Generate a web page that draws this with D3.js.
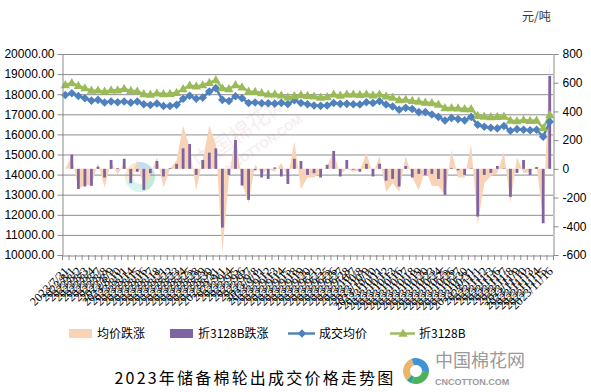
<!DOCTYPE html>
<html><head><meta charset="utf-8">
<script src="https://cdn.jsdelivr.net/npm/d3@7/dist/d3.min.js"></script>
<style>body{margin:0;background:#fff}svg{display:block}</style>
</head><body><svg id="c" width="591" height="392"></svg>
<script>
const dates = ["2023/7/31","2023/8/1","2023/8/2","2023/8/3","2023/8/4","2023/8/7","2023/8/8","2023/8/9","2023/8/10","2023/8/11","2023/8/14","2023/8/15","2023/8/16","2023/8/17","2023/8/18","2023/8/21","2023/8/22","2023/8/23","2023/8/24","2023/8/25","2023/8/28","2023/8/29","2023/8/30","2023/8/31","2023/9/1","2023/9/4","2023/9/5","2023/9/6","2023/9/7","2023/9/8","2023/9/11","2023/9/12","2023/9/13","2023/9/14","2023/9/15","2023/9/18","2023/9/19","2023/9/20","2023/9/21","2023/9/22","2023/9/25","2023/9/26","2023/9/27","2023/9/28","2023/10/7","2023/10/8","2023/10/9","2023/10/10","2023/10/11","2023/10/12","2023/10/13","2023/10/16","2023/10/17","2023/10/18","2023/10/19","2023/10/20","2023/10/23","2023/10/24","2023/10/25","2023/10/26","2023/10/27","2023/10/30","2023/10/31","2023/11/1","2023/11/2","2023/11/3","2023/11/6","2023/11/7","2023/11/8","2023/11/9","2023/11/10","2023/11/13","2023/11/14","2023/11/15","2023/11/16"];
const avgPrice = [17960,18050,17910,17800,17680,17720,17590,17640,17600,17640,17580,17640,17500,17460,17540,17410,17410,17470,17770,17920,17770,17830,18130,18300,17720,17660,17900,17800,17560,17590,17550,17550,17530,17570,17510,17700,17560,17500,17440,17420,17440,17560,17520,17520,17500,17490,17600,17560,17650,17490,17390,17230,17320,17260,17110,17110,16990,16870,16690,16820,16760,16700,16870,16480,16380,16330,16300,16420,16180,16260,16230,16210,16230,15880,16630];
const price3128B = [18460,18560,18420,18300,18180,18190,18130,18200,18200,18270,18170,18150,18010,17980,18050,18010,18020,18070,18260,18430,18390,18450,18570,18710,18300,18260,18460,18340,18130,18120,18060,17990,18000,17940,17840,17910,17960,17920,17890,17830,17860,17990,17930,17990,17990,17970,18000,17950,17990,17900,17830,17710,17730,17670,17640,17590,17560,17490,17310,17310,17300,17260,17260,16930,16890,16860,16880,16890,16690,16660,16720,16680,16690,16310,16960];
const avgChange = [0,90,-140,-110,-120,40,-130,50,-40,40,-60,60,-140,-40,80,-130,0,60,300,150,-150,60,300,170,-580,-60,240,-100,-240,30,-40,0,-20,40,-60,190,-140,-60,-60,-20,20,120,-40,0,-20,-10,110,-40,90,-160,-100,-160,90,-60,-150,0,-120,-120,-180,130,-60,-60,170,-390,-100,-50,-30,120,-240,80,-30,-20,20,-350,750];
const change3128B = [0,100,-140,-123,-118,15,-60,62,5,70,-100,-20,-146,-30,55,-53,5,35,143,173,-42,62,113,143,-409,-42,201,-116,-216,-10,-60,-70,10,-53,-105,70,55,-42,-30,-60,28,125,-53,62,-5,-20,35,-53,35,-82,-70,-123,20,-60,-35,-42,-35,-70,-181,5,-10,-42,3,-332,-42,-28,20,3,-195,-28,62,-42,12,-379,647];
const leftTicks = [10000,11000,12000,13000,14000,15000,16000,17000,18000,19000,20000];
const rightTicks = [-600,-400,-200,0,200,400,600,800];
const seriesNames = ["均价跌涨","折3128B跌涨","成交均价","折3128B"];
const unitLabel = "元/吨";
const titleText = "2023年储备棉轮出成交价格走势图";

const C = {peach:"#F9D3B6", purple:"#8064A2", blue:"#4F81BD", green:"#9BBB59", grid:"#8C8C8C", axis:"#8C8C8C"};
const svg = d3.select("#c");
const L = 62, R = 553, T = 54, B = 255;
const x = d3.scaleBand().domain(dates).range([L, R]).paddingInner(0).paddingOuter(0);
const cx = d => x(d) + x.bandwidth()/2;
const yL = d3.scaleLinear().domain([10000,20000]).range([B,T]);
const yR = d3.scaleLinear().domain([-600,800]).range([B,T]);
const numFont = "'Liberation Sans', Arial, sans-serif";
const cjk = "'Noto Sans CJK SC', sans-serif";

// watermark
const wm = svg.append("g").attr("opacity",0.13);
wm.append("text").attr("transform","translate(200,170) rotate(-35)").attr("font-family",cjk).attr("font-size",22).attr("fill","#c08080").text("中国棉花网");
wm.append("text").attr("transform","translate(222,178) rotate(-35)").attr("font-family",numFont).attr("font-size",12).attr("font-weight","bold").attr("fill","#c08080").text("CNCOTTON.COM");
const wl = svg.append("g").attr("transform","translate(140,177)").attr("opacity",0.35);
[["#F2C36B",-100,-10],["#4EA3E0",-10,80],["#63C48A",80,170],["#8FE3D0",170,260]].forEach(([c,a0,a1])=>{
  wl.append("path").attr("d",d3.arc().innerRadius(7).outerRadius(15).startAngle(a0*Math.PI/180).endAngle(a1*Math.PI/180)()).attr("fill",c);
});

// gridlines
svg.append("g").selectAll("line").data(leftTicks.slice(1)).join("line")
  .attr("x1",L).attr("x2",R).attr("y1",d=>yL(d)+0.5).attr("y2",d=>yL(d)+0.5)
  .attr("stroke",C.grid).attr("stroke-width",1);

// area: 均价跌涨
svg.append("path").datum(avgChange)
  .attr("d", d3.area().x((d,i)=>cx(dates[i])).y0(yR(0)).y1(d=>yR(d)))
  .attr("fill",C.peach);

// bars: 折3128B跌涨
const bw = 2.8;
svg.append("g").selectAll("rect").data(change3128B).join("rect")
  .attr("x",(d,i)=>cx(dates[i])-bw/2).attr("width",bw)
  .attr("y",d=>Math.min(yR(d),yR(0))).attr("height",d=>Math.abs(yR(d)-yR(0)))
  .attr("fill",C.purple);

// lines
const lineL = d3.line().x((d,i)=>cx(dates[i])).y(d=>yL(d));
svg.append("path").datum(avgPrice).attr("d",lineL).attr("fill","none").attr("stroke",C.blue).attr("stroke-width",2.4);
svg.append("path").datum(price3128B).attr("d",lineL).attr("fill","none").attr("stroke",C.green).attr("stroke-width",2.4);
const diamond = "M0,-4.3L4.3,0L0,4.3L-4.3,0Z";
const tri = "M0,-5L4.6,3.2L-4.6,3.2Z";
svg.append("g").selectAll("path").data(avgPrice).join("path")
  .attr("transform",(d,i)=>`translate(${cx(dates[i])},${yL(d)})`).attr("d",diamond).attr("fill",C.blue);
svg.append("g").selectAll("path").data(price3128B).join("path")
  .attr("transform",(d,i)=>`translate(${cx(dates[i])},${yL(d)})`).attr("d",tri).attr("fill",C.green);

// axes
const axL = svg.append("g").attr("transform",`translate(${L+0.5},0)`)
  .call(d3.axisLeft(yL).tickValues(leftTicks).tickFormat(d=>d.toFixed(2)).tickSize(5).tickPadding(3));
const axR = svg.append("g").attr("transform",`translate(${R+0.5},0)`)
  .call(d3.axisRight(yR).tickValues(rightTicks).tickFormat(d=>d).tickSize(5).tickPadding(4));
const axB = svg.append("g").attr("transform",`translate(0,${B+0.5})`)
  .call(d3.axisBottom(x).tickValues([]).tickSize(0));
// category boundary ticks
svg.append("g").selectAll("line").data(dates).join("line")
  .attr("x1",d=>x(d)+x.bandwidth()+0.5).attr("x2",d=>x(d)+x.bandwidth()+0.5)
  .attr("y1",B).attr("y2",B+5).attr("stroke",C.axis);
svg.append("line").attr("x1",L+0.5).attr("x2",L+0.5).attr("y1",B).attr("y2",B+5).attr("stroke",C.axis);
[axL,axR,axB].forEach(a=>{
  a.select(".domain").attr("stroke",C.axis);
  a.selectAll(".tick line").attr("stroke",C.axis);
  a.selectAll("text").attr("font-family",numFont).attr("font-size",12).attr("fill","#000");
});

// x labels
svg.append("g").selectAll("text").data(dates).join("text")
  .attr("transform",d=>`translate(${cx(d)+4},${B+17}) rotate(-45)`)
  .attr("text-anchor","end").attr("font-family","'Liberation Serif','Times New Roman',serif")
  .attr("font-size",12).attr("fill","#000").text(d=>d);

// unit label
svg.append("text").attr("x",522).attr("y",21).attr("font-family",cjk).attr("font-size",12).attr("fill","#333").text(unitLabel);

// legend
const lg = svg.append("g").attr("font-family",cjk).attr("font-size",12).attr("fill","#000");
lg.append("rect").attr("x",69).attr("y",329).attr("width",23).attr("height",9).attr("fill",C.peach);
lg.append("text").attr("x",97).attr("y",338).text(seriesNames[0]);
lg.append("rect").attr("x",170).attr("y",329).attr("width",23).attr("height",9).attr("fill",C.purple);
lg.append("text").attr("x",198).attr("y",338).text(seriesNames[1]);
lg.append("line").attr("x1",288).attr("x2",315).attr("y1",333.5).attr("y2",333.5).attr("stroke",C.blue).attr("stroke-width",2.4);
lg.append("path").attr("transform","translate(302,333.5)").attr("d",diamond).attr("fill",C.blue);
lg.append("text").attr("x",319).attr("y",338).text(seriesNames[2]);
lg.append("line").attr("x1",390).attr("x2",415).attr("y1",333.5).attr("y2",333.5).attr("stroke",C.green).attr("stroke-width",2.4);
lg.append("path").attr("transform","translate(403,333.5)").attr("d",tri).attr("fill",C.green);
lg.append("text").attr("x",419).attr("y",338).text(seriesNames[3]);

// title
svg.append("text").attr("x",255).attr("y",384).attr("text-anchor","middle")
  .attr("font-family",cjk).attr("font-size",16).attr("letter-spacing",2.2).attr("fill","#000").text(titleText);

// logo
const lo = svg.append("g").attr("transform","translate(416,371)");
[["#E9B76B",-135,-20],["#3E92D6",-20,95],["#4DB35A",95,200],["#2FA39A",200,225]].forEach(([c,a0,a1])=>{
  lo.append("path").attr("d",d3.arc().innerRadius(6).outerRadius(13).startAngle(a0*Math.PI/180).endAngle(a1*Math.PI/180)()).attr("fill",c);
});
lo.append("circle").attr("r",4).attr("fill","#fff");
svg.append("text").attr("x",435).attr("y",367).attr("font-family",cjk).attr("font-size",18).attr("fill","#9a9a9a").text("中国棉花网");
svg.append("text").attr("x",435).attr("y",385).attr("font-family",numFont).attr("font-size",9).attr("font-weight","bold").attr("fill","#9a9a9a").text("CNCOTTON.COM");
</script></body></html>
